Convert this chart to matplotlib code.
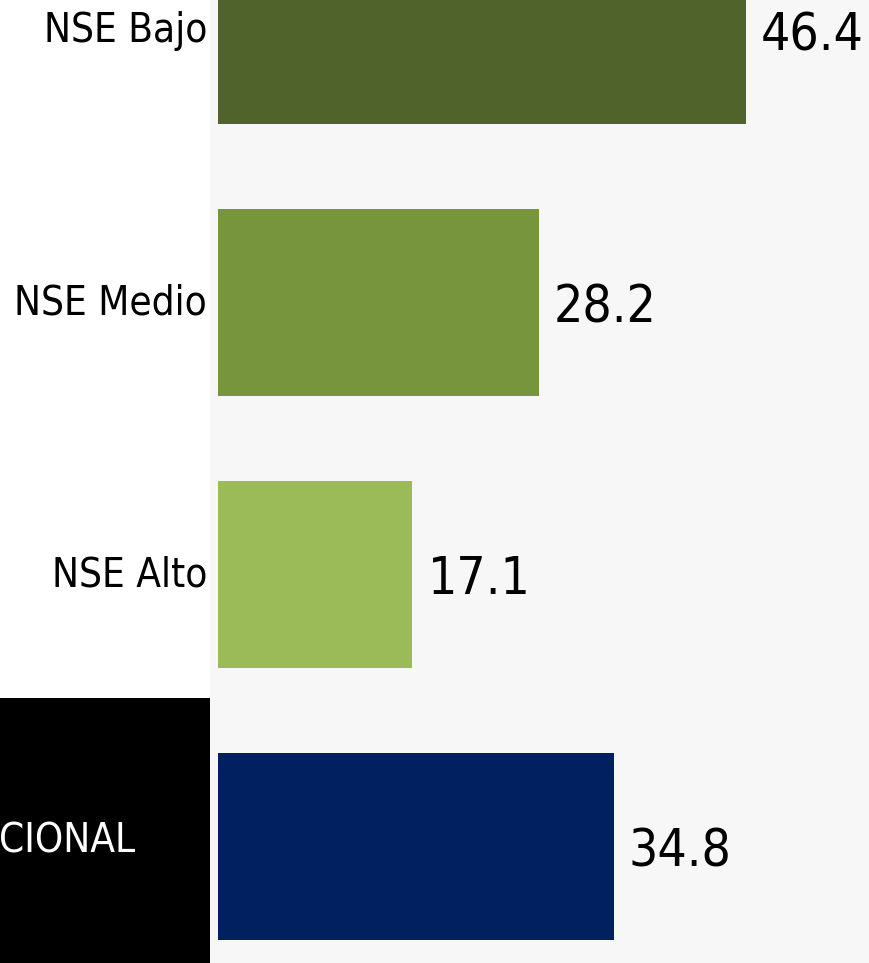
import matplotlib
matplotlib.use("Agg")
import matplotlib.pyplot as plt
from matplotlib.patches import Rectangle
from matplotlib.transforms import ScaledTranslation

categories = ["NSE Bajo", "NSE Medio", "NSE Alto", "NACIONAL"]
values = [46.4, 28.2, 17.1, 34.8]
colors = ["#50632a", "#77953d", "#9bbb59", "#002060"]

plt.rcParams['font.family'] = ['DejaVu Sans']
plt.rcParams['font.stretch'] = 'condensed'

DPI = 100
fig = plt.figure(figsize=(8.7, 9.63), dpi=DPI)
fig.patch.set_facecolor("white")

# black box behind NACIONAL label
fig.patches.append(Rectangle((0, 0), 210 / 870, (963 - 698) / 963,
                             transform=fig.transFigure, facecolor="black",
                             edgecolor="none", zorder=-5))

ax = fig.add_axes([210 / 870, 0, 660 / 870, 1])
ax.set_zorder(2)
ax.set_facecolor("#f7f7f7")

ypos = list(range(len(categories)))
ax.barh(ypos, values, height=187 / 272, color=colors)

scale = 11.37
ax.set_xlim(-8 / scale, -8 / scale + 660 / scale)
ax.set_ylim(3 + (963 - 846.5) / 272, -31 / 272)

ax.set_yticks(ypos)
ax.set_yticklabels(categories, fontsize=29)
ax.tick_params(axis="y", length=0, pad=2)
ax.set_xticks([])
for s in ax.spines.values():
    s.set_visible(False)

lbls = ax.get_yticklabels()
for lb in lbls[:-1]:
    lb.set_transform(lb.get_transform() + ScaledTranslation(0, 4 / DPI, fig.dpi_scale_trans))
last = lbls[-1]
last.set_color("white")
last.set_transform(last.get_transform() + ScaledTranslation(-72 / DPI, 10 / DPI, fig.dpi_scale_trans))

for y, v in zip(ypos, values):
    ax.annotate(f"{v:.1f}", (v, y), xytext=(11, -4), textcoords="offset points",
                va="center", ha="left", fontsize=37, color="black")

fig.savefig("out.png", dpi=DPI)
